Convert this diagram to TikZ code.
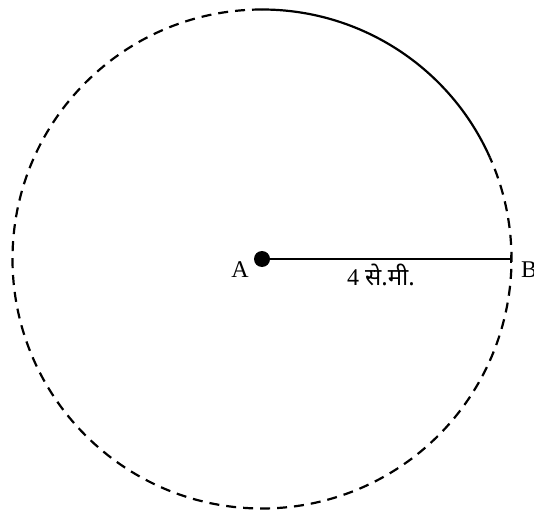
\documentclass[tikz,border=0pt]{standalone}
\usepackage{fontspec}
\setmainfont{Liberation Serif}
\newfontfamily\devfont[Script=Devanagari]{Noto Sans}
\usetikzlibrary{positioning}

\begin{document}
\begin{tikzpicture}[x=1pt, y=1pt,
      rim/.style={line width=2.2pt, dash pattern=on 10pt off 7pt},
      solidarc/.style={line width=2.2pt},
      radius line/.style={line width=2.2pt},
      centre/.style={circle, fill=black, inner sep=0pt, minimum size=16pt},
      lbl/.style={font=\fontsize{24}{28}\selectfont, inner sep=0pt}
    ]
    \useasboundingbox (0,0) rectangle (534,-510);
    \coordinate (O) at (262,-259);
    \coordinate (B) at (511,-259);
    \coordinate (top) at ([shift={(90:249.5)}]O);
    % circle through B, dashed part first
    \draw[rim] (top) arc[start angle=90, end angle=384, radius=249.5];
    \draw[solidarc] (top) arc[start angle=90, end angle=24, radius=249.5];
    \node[centre] (A) at (O) {};
    \draw[radius line] (A.center) -- (B);
    \draw[line width=1.4pt] ([yshift=-4pt]B) -- ([yshift=4pt]B);
    \node[lbl, anchor=base east] (lblA) at (249,-277) {A};
    \node[lbl, anchor=base west] (lblB) at (521,-277) {B};
    \node[lbl, anchor=north] (len) at (381,-264) {4 {\devfont से.मी.}};
  \end{tikzpicture}
\end{document}
